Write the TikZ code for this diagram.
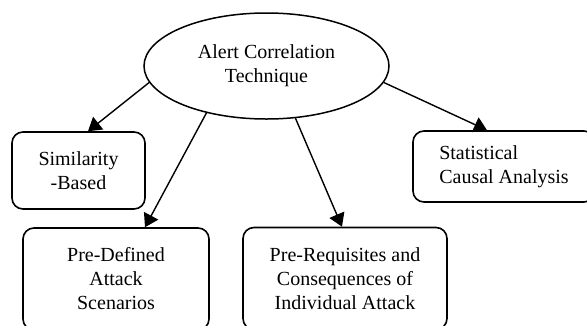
\documentclass[tikz,border=0pt]{standalone}
\usepackage{fontspec}
\setmainfont{Liberation Serif}
\usetikzlibrary{positioning,arrows.meta,shapes.geometric}

\begin{document}
\begin{tikzpicture}[x=1pt, y=-1pt,
  every node/.style={font=\fontsize{20pt}{24pt}\selectfont},
  technique/.style={draw, ellipse, line width=1.5pt, inner sep=0pt, align=center,
                    minimum width=245pt, minimum height=106pt},
  category/.style={draw, line width=1.6pt, rounded corners=11pt, align=center},
  link/.style={-{Triangle[length=13pt, width=16pt]}, line width=1.4pt}
]
  \useasboundingbox (0,0) rectangle (587,325);
  \clip (0,0) rectangle (587,325);

  % Root: the correlation technique
  \node[technique] (ACT) at (266.5,66) {Alert Correlation\\Technique};

  % Upper row of categories
  \node[category, minimum width=133pt, minimum height=77pt] (SB) at (78.5,170.5)
    {Similarity\\-Based};
  \node[category, align=left, minimum width=182pt, minimum height=71pt] (SCA) at (504,166.5)
    {Statistical\\Causal Analysis};

  % Lower row of categories
  \node[category, minimum width=186pt, minimum height=102pt] (PDAS) at (116,279)
    {Pre-Defined\\Attack\\Scenarios};
  \node[category, minimum width=204pt, minimum height=102pt] (PRC) at (345,278.5)
    {Pre-Requisites and\\Consequences of\\Individual Attack};

  % Links from the root
  \draw[link] (ACT.188) -- ([xshift=9.5pt]SB.north);
  \draw[link] (ACT.218) -- ([xshift=29pt]PDAS.north);
  \draw[link] (ACT.299) -- ([xshift=-3pt]PRC.north);
  \draw[link] (ACT.352) -- ([xshift=-17pt]SCA.north);
\end{tikzpicture}
\end{document}
